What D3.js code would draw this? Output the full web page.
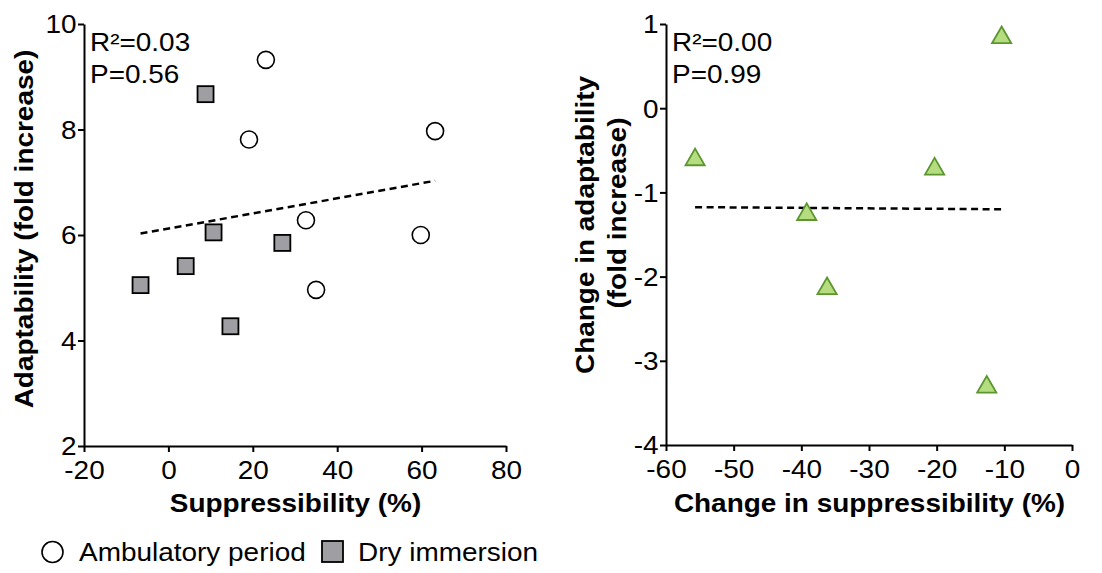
<!DOCTYPE html>
<html>
<head>
<meta charset="utf-8">
<script src="https://cdn.jsdelivr.net/npm/d3@7"></script>
<style>
  html, body { margin: 0; padding: 0; background: #fff; }
  svg { display: block; font-family: "Liberation Sans", Arial, sans-serif; }
</style>
</head>
<body>
<svg id="chart" width="1102" height="573"></svg>
<script>
// ---- Data ----
const ambX = [23.1, 19.1, 63.2, 32.6, 59.8, 35.0];   // Suppressibility (%)
const ambY = [9.32, 7.81, 7.97, 6.28, 6.00, 4.96];   // Adaptability (fold increase)
const dryX = [8.8, 10.7, 27.0, 4.1, -6.6, 14.7];
const dryY = [8.67, 6.05, 5.85, 5.41, 5.05, 4.27];

const chgX = [-10.4, -55.7, -20.3, -39.2, -36.2, -12.6]; // Change in suppressibility (%)
const chgY = [0.85, -0.60, -0.71, -1.25, -2.13, -3.30];  // Change in adaptability

const leftXTicks = [-20, 0, 20, 40, 60, 80];
const leftYTicks = [2, 4, 6, 8, 10];
const rightXTicks = [-60, -50, -40, -30, -20, -10, 0];
const rightYTicks = [-4, -3, -2, -1, 0, 1];

const statsLeft = ["R\u00b2=0.03", "P=0.56"];
const statsRight = ["R\u00b2=0.00", "P=0.99"];
const legendLabels = ["Ambulatory period", "Dry immersion"];

// ---- helpers ----
function fit(xs, ys) {
  const mx = d3.mean(xs), my = d3.mean(ys);
  let sxy = 0, sxx = 0;
  xs.forEach((x, i) => { sxy += (x - mx) * (ys[i] - my); sxx += (x - mx) ** 2; });
  const b = sxy / sxx, a = my - b * mx;
  const [x0, x1] = d3.extent(xs);
  return [[x0, a + b * x0], [x1, a + b * x1]];
}

const svg = d3.select("#chart");
const FONT = "\"Liberation Sans\", Arial, sans-serif";
const SX = 1.075; // horizontal stretch of the reference lettering

function label(g, x, y, txt, opts = {}) {
  const rot = opts.rotate ? " rotate(-90)" : "";
  return g.append("text")
    .attr("transform", `translate(${x},${y})${rot} scale(${SX},1)`)
    .attr("text-anchor", opts.anchor || "start")
    .style("font-size", (opts.size || 26) + "px")
    .style("font-weight", opts.bold ? "bold" : "normal")
    .style("font-family", FONT)
    .attr("fill", "#000")
    .text(txt);
}

function drawAxes(g, x, y, xt, yt) {
  const fmt = d => String(d);
  const ax = g.append("g").attr("transform", `translate(0,${y.range()[0]})`)
    .call(d3.axisBottom(x).tickValues(xt).tickSize(6).tickPadding(9).tickSizeOuter(0).tickFormat(fmt));
  const ay = g.append("g").attr("transform", `translate(${x.range()[0]},0)`)
    .call(d3.axisLeft(y).tickValues(yt).tickSize(6).tickPadding(1).tickSizeOuter(0).tickFormat(fmt));
  [ax, ay].forEach(a => {
    a.select(".domain").attr("stroke", "#000").attr("stroke-width", 2);
    a.selectAll(".tick line").attr("stroke", "#000").attr("stroke-width", 2);
    a.selectAll(".tick text").attr("fill", "#000").style("font-size", "26px").style("font-family", FONT)
      .attr("transform", `scale(${SX},1)`);
  });
  ay.selectAll(".tick text").attr("dy", "0.34em");
}

// ---- Left panel ----
const xL = d3.scaleLinear().domain([-20, 80]).range([84, 506]);
const yL = d3.scaleLinear().domain([2, 10]).range([446, 24]);
const gL = svg.append("g");
drawAxes(gL, xL, yL, leftXTicks, leftYTicks);

const fitL = fit(ambX.concat(dryX), ambY.concat(dryY));
gL.append("line")
  .attr("x1", xL(fitL[0][0])).attr("y1", yL(fitL[0][1]))
  .attr("x2", xL(fitL[1][0])).attr("y2", yL(fitL[1][1]))
  .attr("stroke", "#000").attr("stroke-width", 2.5).attr("stroke-dasharray", "7,4.5");

gL.selectAll("circle.amb").data(ambX.map((d, i) => [d, ambY[i]])).join("circle")
  .attr("class", "amb")
  .attr("cx", d => xL(d[0])).attr("cy", d => yL(d[1])).attr("r", 8.5)
  .attr("fill", "#fff").attr("stroke", "#000").attr("stroke-width", 1.6);

const sq = 16;
gL.selectAll("rect.dry").data(dryX.map((d, i) => [d, dryY[i]])).join("rect")
  .attr("class", "dry")
  .attr("x", d => xL(d[0]) - sq / 2).attr("y", d => yL(d[1]) - sq / 2)
  .attr("width", sq).attr("height", sq)
  .attr("fill", "#9e9ea3").attr("stroke", "#000").attr("stroke-width", 1.8);

label(gL, 90, 51, statsLeft[0]);
label(gL, 90, 83, statsLeft[1]);
label(gL, 295.5, 512, "Suppressibility (%)", { anchor: "middle", bold: true });
label(gL, 33, 229, "Adaptability (fold increase)", { anchor: "middle", bold: true, rotate: true });

// ---- Right panel ----
const xR = d3.scaleLinear().domain([-60, 0]).range([666, 1072]);
const yR = d3.scaleLinear().domain([-4, 1]).range([445, 24]);
const gR = svg.append("g");
drawAxes(gR, xR, yR, rightXTicks, rightYTicks);

const fitR = fit(chgX, chgY);
gR.append("line")
  .attr("x1", xR(fitR[0][0])).attr("y1", yR(fitR[0][1]))
  .attr("x2", xR(fitR[1][0])).attr("y2", yR(fitR[1][1]))
  .attr("stroke", "#000").attr("stroke-width", 2.5).attr("stroke-dasharray", "7,4.5");

const tri = d3.symbol().type(d3.symbolTriangle).size(160);
gR.selectAll("path.chg").data(chgX.map((d, i) => [d, chgY[i]])).join("path")
  .attr("class", "chg")
  .attr("transform", d => `translate(${xR(d[0])},${yR(d[1]) + 1})`)
  .attr("d", tri)
  .attr("fill", "#b5dd7f").attr("stroke", "#5b9630").attr("stroke-width", 1.8);

label(gR, 672, 51, statsRight[0]);
label(gR, 672, 83, statsRight[1]);
label(gR, 869.5, 512, "Change in suppressibility (%)", { anchor: "middle", bold: true });
label(gR, 594, 225, "Change in adaptability", { anchor: "middle", bold: true, rotate: true });
label(gR, 626, 213, "(fold increase)", { anchor: "middle", bold: true, rotate: true });

// ---- Legend ----
const lg = svg.append("g");
lg.append("circle").attr("cx", 52.5).attr("cy", 552).attr("r", 10.5)
  .attr("fill", "#fff").attr("stroke", "#000").attr("stroke-width", 1.6);
label(lg, 79, 561, legendLabels[0]);
lg.append("rect").attr("x", 322).attr("y", 541).attr("width", 21).attr("height", 21)
  .attr("fill", "#9e9ea3").attr("stroke", "#000").attr("stroke-width", 1.8);
label(lg, 358, 561, legendLabels[1]);
</script>
</body>
</html>
